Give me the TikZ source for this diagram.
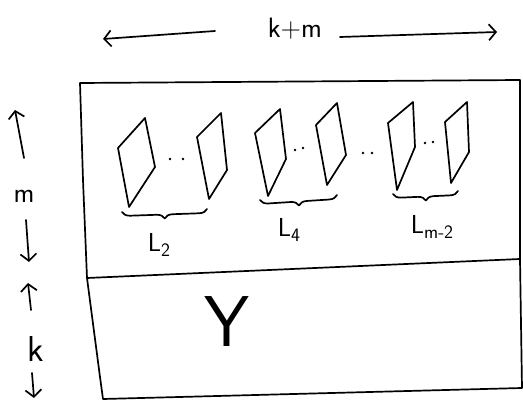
\documentclass[tikz,border=0pt]{standalone}
\usetikzlibrary{arrows.meta,decorations.pathreplacing}
\begin{document}
\begin{tikzpicture}[x=1pt,y=-1pt, line width=1.7pt, line cap=round, line join=round,
  barb/.style={-{Straight Barb[length=7pt,width=16pt,line width=1.7pt]}},
  plane/.style={draw},
  brc/.style={decorate, decoration={brace, mirror, amplitude=8pt}},
  lbl/.style={font=\sffamily\fontsize{26}{26}\selectfont, inner sep=0pt},
  sub/.style={},
  dot/.style={fill, circle, inner sep=0pt, minimum size=2.8pt}]
\useasboundingbox (0,0) rectangle (523,401);
% outer box
\coordinate (tl) at (80,83);
\coordinate (tr) at (520,80);
\coordinate (br) at (522,388);
\coordinate (bl) at (103,399);
\coordinate (ml) at (87,278);
\coordinate (mr) at (520,259);
\draw (ml) -- (83,180) -- (tl) -- (tr) -- (mr) -- (br) -- (bl) -- (100,377) -- (ml);
\draw (ml) -- (mr);
% planes
\draw[plane] (118,148) -- (145,118) -- (155,167) -- (129,207) -- cycle;
\draw[plane] (197,137) -- (221,113) -- (227,170) -- (209,199) -- cycle;
\draw[plane] (255,133) -- (280,109) -- (286,159) -- (268,196) -- cycle;
\draw[plane] (316,125) -- (337,103) -- (346,155) -- (327,185) -- cycle;
\draw[plane] (388,123) -- (413,102) -- (415,147) -- (397,190) -- cycle;
\draw[plane] (445,122) -- (467,102) -- (469,152) -- (451,183) -- cycle;
% dots
\node[dot] (d1) at (170,159) {};
\node[dot] (d2) at (183,159) {};
\node[dot] (d3) at (295,150) {};
\node[dot] (d4) at (303,148) {};
\node[dot] (d5) at (363,153) {};
\node[dot] (d6) at (372,153) {};
\node[dot] (d7) at (425,143) {};
\node[dot] (d8) at (433,142) {};
% braces
\draw[brc] (122,212) -- (207,209);
\draw[brc] (260,200) -- (337,195);
\draw[brc] (393,194) -- (458,191);
% labels
\node[lbl] (l2) at (159,245) {L\raisebox{-0.45ex}{\fontsize{19}{19}\selectfont 2}};
\node[lbl] (l4) at (289,230) {L\raisebox{-0.45ex}{\fontsize{19}{19}\selectfont 4}};
\node[lbl] (lm) at (432,227) {L\raisebox{-0.45ex}{\fontsize{19}{19}\selectfont m-2}};
\node[lbl, font=\sffamily\fontsize{72}{72}\selectfont] (y) at (227,322) {Y};
% top dimension
\node[lbl, font=\sffamily\fontsize{28}{28}\selectfont] (km) at (295,29) {k+m};
\draw[barb] (215,31) -- (103,39);
\draw[barb] (340,37) -- (497,32);
% left dimensions
\node[lbl, font=\sffamily\fontsize{28}{28}\selectfont] (m) at (24,196) {m};
\node[lbl, font=\sffamily\fontsize{36}{36}\selectfont] (k) at (36,349) {k};
\draw[barb] (24,158) -- (15,110);
\draw[barb] (26,220) -- (29,262);
\draw[barb] (31,310) -- (28,283);
\draw[barb] (32,373) -- (34,398);
\end{tikzpicture}
\end{document}
